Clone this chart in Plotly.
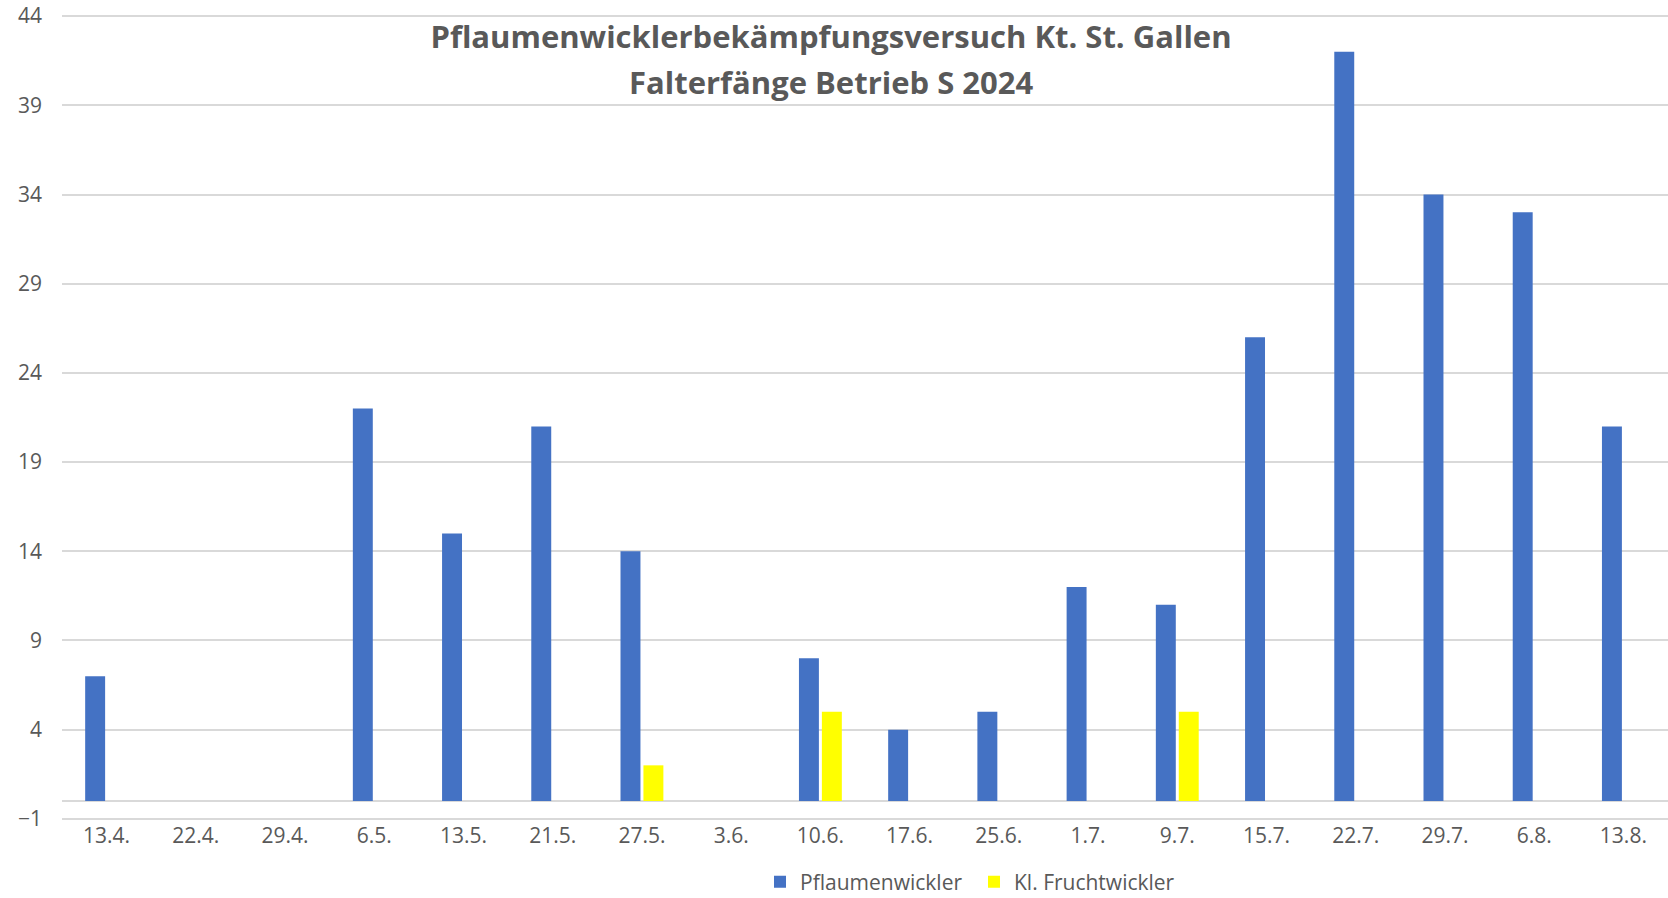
import plotly.graph_objects as go

dates = ["13.4.", "22.4.", "29.4.", "6.5.", "13.5.", "21.5.", "27.5.", "3.6.", "10.6.",
         "17.6.", "25.6.", "1.7.", "9.7.", "15.7.", "22.7.", "29.7.", "6.8.", "13.8."]
pflaumenwickler = [7, 0, 0, 22, 15, 21, 14, 0, 8, 4, 5, 12, 11, 26, 42, 34, 33, 21]
fruchtwickler = [0, 0, 0, 0, 0, 0, 2, 0, 5, 0, 0, 0, 5, 0, 0, 0, 0, 0]
y_ticks = [-1, 4, 9, 14, 19, 24, 29, 34, 39, 44]

title_line1 = "Pflaumenwicklerbekämpfungsversuch Kt. St. Gallen"
title_line2 = "Falterfänge Betrieb S 2024"

FONT = "Open Sans"
GREY = "#595959"
GRID = "#d9d9d9"

W, H = 1668, 898
PAD = 0.12                      # small range padding so edge gridlines are drawn
UNIT = 803 / 45.0               # px per data unit
ML, MR = 62, 0
MT = round(16 - PAD * UNIT)
MB = round(79 - PAD * UNIT)
plot_h = H - MT - MB

fig = go.Figure()
fig.add_trace(go.Bar(x=dates, y=pflaumenwickler, name="Pflaumenwickler",
                     marker=dict(color="#4472C4", line=dict(width=0))))
fig.add_trace(go.Bar(x=dates, y=fruchtwickler, name="Kl. Fruchtwickler",
                     marker=dict(color="#FFFF00", line=dict(width=0))))

fig.update_layout(
    width=W, height=H,
    paper_bgcolor="white", plot_bgcolor="white",
    margin=dict(l=ML, r=MR, t=MT, b=MB, autoexpand=False),
    barmode="group", bargap=0.486, bargroupgap=0.13,
    font=dict(family=FONT, size=21, color=GREY),
    title=dict(
        text="<b>" + title_line1 + "</b>",
        x=831 / W, xref="container", xanchor="center",
        y=1 - 37 / H, yref="container", yanchor="middle",
        font=dict(family=FONT, size=31, color=GREY),
    ),
    legend=dict(orientation="h", x=760 / W, xref="container", xanchor="left",
                y=1 - 882 / H, yref="container", yanchor="middle",
                entrywidth=169, entrywidthmode="pixels",
                font=dict(family=FONT, size=21, color=GREY),
                bgcolor="rgba(0,0,0,0)"),
    showlegend=True,
)
fig.add_annotation(
    text="<b>" + title_line2 + "</b>",
    xref="paper", yref="paper",
    x=(831 - ML) / (W - ML - MR), y=1 - (82 - MT) / plot_h,
    xanchor="center", yanchor="middle", showarrow=False,
    font=dict(family=FONT, size=31, color=GREY),
)
fig.update_xaxes(type="category", showgrid=False, showline=False, ticks="",
                 tickfont=dict(family=FONT, size=21, color=GREY))
fig.update_yaxes(range=[-1 - PAD, 44 + PAD], tickvals=y_ticks, showgrid=True, gridcolor=GRID,
                 gridwidth=1.5, zeroline=True, zerolinecolor=GRID, zerolinewidth=1.5,
                 showline=False, ticks="", ticklabelstandoff=19,
                 ticklabeloverflow="allow",
                 tickfont=dict(family=FONT, size=21, color=GREY))

fig.write_html("out.html", config={"displayModeBar": False},
               post_script="document.body.style.margin='0px';")
